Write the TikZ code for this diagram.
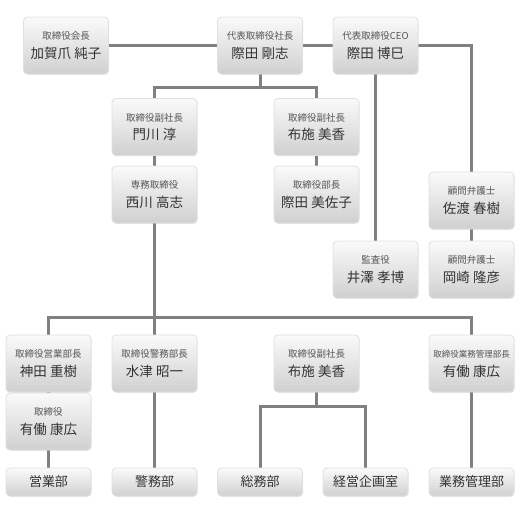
\documentclass[tikz,border=0pt]{standalone}
\usepackage{fontspec}
\setmainfont{Noto Sans CJK JP}
\usetikzlibrary{shadows,backgrounds}
\definecolor{linegray}{HTML}{808080}
\definecolor{boxedge}{HTML}{E0E0E0}
\definecolor{boxtop}{HTML}{FAFAFA}
\definecolor{boxbot}{HTML}{D0D0D0}
\definecolor{txt}{HTML}{333333}
\definecolor{titletxt}{HTML}{555555}
\tikzset{
  card/.style={draw=boxedge, line width=0.8pt, rounded corners=4pt,
    top color=boxtop, bottom color=boxbot, minimum width=85pt, inner sep=0pt,
    drop shadow={shadow xshift=0.6pt, shadow yshift=-0.8pt, opacity=0.18}},
  person/.style={card, minimum height=57pt},
  dept/.style={card, minimum height=28pt, font=\fontsize{13}{15}\selectfont, text=txt},
  conn/.style={draw=linegray, line width=3pt},
  ttl/.style={font=\fontsize{9.5}{11}\selectfont, text=titletxt, yshift=9.5pt, inner sep=0pt},
  nm/.style={font=\fontsize{13.5}{16}\selectfont, text=txt, yshift=-7.5pt, inner sep=0pt},
}
\newcommand{\pers}[4]{\node[person, label={[ttl]center:#3}, label={[nm]center:#4}] (#1) at (#2) {};}
\begin{document}
\begin{tikzpicture}[x=1pt,y=-1pt]
\useasboundingbox (0,0) rectangle (520,515);
% top row
\pers{kaga}{66,45.5}{取締役会長}{加賀爪 純子}
\pers{shacho}{260,45.5}{代表取締役社長}{際田 剛志}
\pers{ceo}{375.5,45.5}{代表取締役CEO}{際田 博巳}
% second level
\pers{kadokawa}{154.5,127}{取締役副社長}{門川 淳}
\pers{fuse1}{316.5,127}{取締役副社長}{布施 美香}
\pers{nishikawa}{154.5,194.5}{専務取締役}{西川 高志}
\pers{misako}{316.5,194.5}{取締役部長}{際田 美佐子}
\pers{sado}{471.5,200.5}{顧問弁護士}{佐渡 春樹}
\pers{kansa}{375.5,269.5}{監査役}{井澤 孝博}
\pers{okazaki}{471.5,269.5}{顧問弁護士}{岡崎 隆彦}
% lower level
\pers{kanda}{48.5,363.5}{取締役営業部長}{神田 重樹}
\pers{udo1}{48.5,421.5}{取締役}{有働 康広}
\pers{suizu}{154.5,363.5}{取締役警務部長}{水津 昭一}
\pers{fuse2}{316.5,363.5}{取締役副社長}{布施 美香}
\pers{udo2}{471.5,363.5}{{\fontsize{8.5}{10}\selectfont 取締役業務管理部長}}{有働 康広}
% departments
\node[dept] (eigyo) at (48.5,482) {営業部};
\node[dept] (keimu) at (154.5,482) {警務部};
\node[dept] (somu) at (260,482) {総務部};
\node[dept] (keiei) at (365.5,482) {経営企画室};
\node[dept] (gyomu) at (471.5,482) {業務管理部};
\coordinate (j1) at (260,87);
\coordinate (j2) at (154.5,317);
\coordinate (j3) at (316.5,406);
\begin{scope}[on background layer]
\fill[white] (0,0) rectangle (520,515);
\draw[conn] (kaga) -- (shacho);
\draw[conn] (shacho) -- (ceo);
\draw[conn] (ceo.east) -| (sado.north);
\draw[conn] (shacho.south) -- (j1);
\draw[conn] (kadokawa.north) |- (j1) -| (fuse1.north);
\draw[conn] (kadokawa) -- (nishikawa);
\draw[conn] (fuse1) -- (misako);
\draw[conn] (ceo.south) -- (kansa.north);
\draw[conn] (sado) -- (okazaki);
\draw[conn] (nishikawa.south) -- (j2);
\draw[conn] (kanda.north) |- (j2) -| (udo2.north);
\draw[conn] (suizu.north) -- (j2);
\draw[conn] (kanda) -- (udo1);
\draw[conn] (udo1) -- (eigyo);
\draw[conn] (suizu) -- (keimu);
\draw[conn] (fuse2.south) -- (j3);
\draw[conn] (somu.north) |- (j3) -| (keiei.north);
\draw[conn] (udo2) -- (gyomu);
\end{scope}
\end{tikzpicture}
\end{document}
